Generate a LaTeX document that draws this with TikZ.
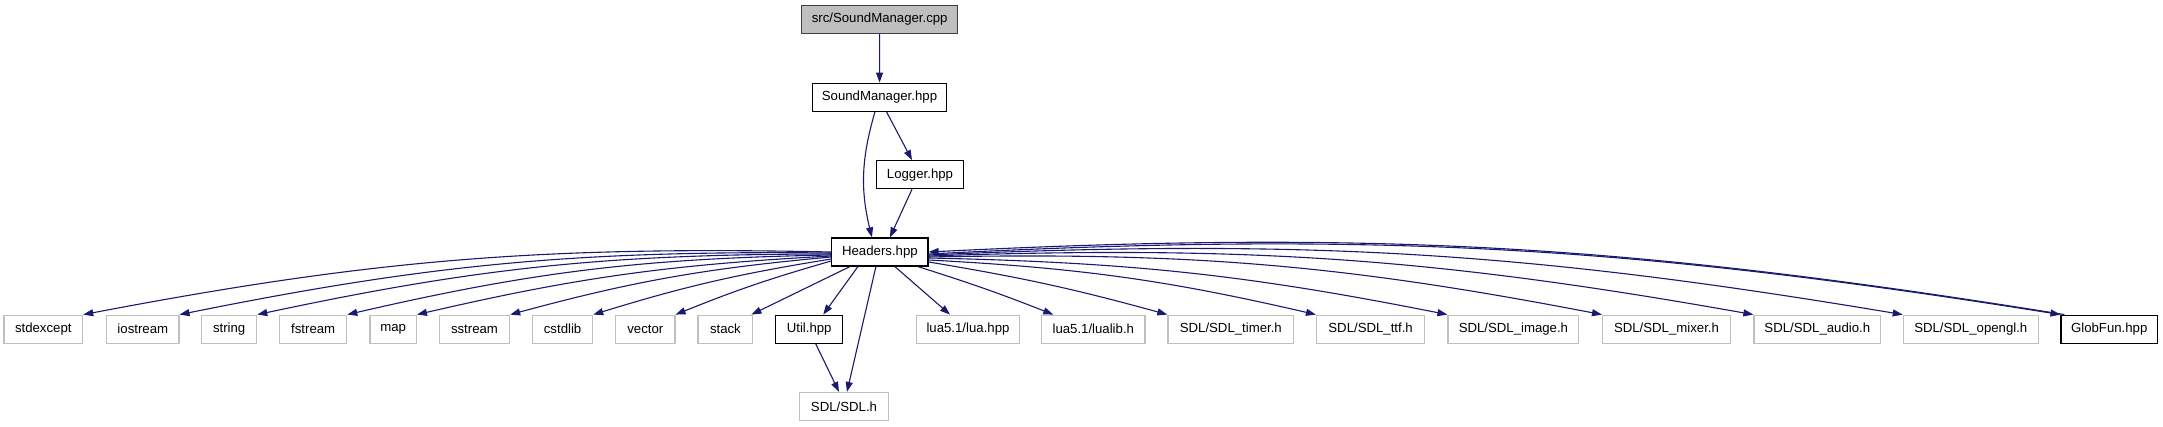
\documentclass[tikz,border=0pt]{standalone}
\usepackage{fontspec}
\setmainfont{Liberation Sans}
\usetikzlibrary{arrows.meta,calc}
\definecolor{edgecol}{HTML}{191970}
\definecolor{extgray}{HTML}{BFBFBF}
\definecolor{srcborder}{HTML}{404040}
\begin{document}
\begin{tikzpicture}[x=1pt, y=1pt,
  box/.style={draw, line width=1.2pt, minimum height=28pt, inner sep=0pt, font=\fontsize{13.2}{15}\selectfont},
  doc/.style={box, draw=black},
  ext/.style={box, draw=extgray},
  srcbox/.style={box, draw=srcborder, fill=extgray},
  edge/.style={draw=edgecol, line width=1.1pt, -{Triangle[length=10pt,width=7pt]}},
  bendR/.style={to path={.. controls ($(\tikztostart)!0.39!-#1:(\tikztotarget)$) and ($(\tikztotarget)!0.39!#1:(\tikztostart)$) .. (\tikztotarget) \tikztonodes}},
  bendL/.style={to path={.. controls ($(\tikztostart)!0.39!#1:(\tikztotarget)$) and ($(\tikztotarget)!0.39!-#1:(\tikztostart)$) .. (\tikztotarget) \tikztonodes}}]
\useasboundingbox (0,0) rectangle (2163,-427);
% top chain
\node[srcbox, minimum width=156pt] (src) at (879.7,-19.5) {src/SoundManager.cpp};
\node[doc, minimum width=134.4pt] (smh) at (879.5,-97.2) {SoundManager.hpp};
\node[doc, minimum width=86.6pt] (logger) at (920,-174.7) {Logger.hpp};
\node[doc, minimum width=96.3pt] (H) at (879.9,-252) {Headers.hpp};
% bottom row
\node[ext, minimum width=78.7pt] (stdexcept) at (43.3,-329.2) {stdexcept};
\node[ext, minimum width=72.3pt] (iostream) at (142.8,-329.2) {iostream};
\node[ext, minimum width=55pt] (string) at (229.2,-329.2) {string};
\node[ext, minimum width=67pt] (fstream) at (313.2,-329.2) {fstream};
\node[ext, minimum width=46.4pt] (map) at (393.2,-329.2) {map};
\node[ext, minimum width=70.2pt] (sstream) at (474.5,-329.2) {sstream};
\node[ext, minimum width=60.1pt] (cstdlib) at (562.6,-329.2) {cstdlib};
\node[ext, minimum width=59.3pt] (vector) at (645.3,-329.2) {vector};
\node[ext, minimum width=54.8pt] (stack) at (725.4,-329.2) {stack};
\node[doc, minimum width=67pt] (util) at (809.2,-329.2) {Util.hpp};
\node[ext, minimum width=102.6pt] (lua) at (968,-329.2) {lua5.1/lua.hpp};
\node[ext, minimum width=103.3pt] (lualib) at (1093.3,-329.2) {lua5.1/lualib.h};
\node[ext, minimum width=125.8pt] (timer) at (1230.8,-329.2) {SDL/SDL\_timer.h};
\node[ext, minimum width=108.1pt] (ttf) at (1370.6,-329.2) {SDL/SDL\_ttf.h};
\node[ext, minimum width=130.8pt] (image) at (1513.4,-329.2) {SDL/SDL\_image.h};
\node[ext, minimum width=127.9pt] (mixer) at (1666.5,-329.2) {SDL/SDL\_mixer.h};
\node[ext, minimum width=126.7pt] (audio) at (1817.3,-329.2) {SDL/SDL\_audio.h};
\node[ext, minimum width=135pt] (opengl) at (1970.8,-329.2) {SDL/SDL\_opengl.h};
\node[doc, minimum width=96.3pt] (globfun) at (2109.2,-329.2) {GlobFun.hpp};
\node[ext, minimum width=89.4pt] (sdlh) at (844,-406.5) {SDL/SDL.h};
% edges top
\draw[edge] (src) -- (smh);
\draw[edge] ($(smh.south)+(-4.5,0)$) to[bendR=15] ($(H.north)+(-8,0)$);
\draw[edge] ($(smh.south)+(7,0)$) -- ($(logger.north)+(-8,0)$);
\draw[edge] ($(logger.south)+(-8,0)$) -- ($(H.north)+(10,0)$);
% left group
\draw[edge] (H.west) to[bendR=6] (stdexcept.north east);
\draw[edge] ($(H.west)+(0,-1)$) to[bendR=6] (iostream.north east);
\draw[edge] ($(H.west)+(0,-2)$) to[bendR=6] (string.north east);
\draw[edge] ($(H.west)+(0,-3)$) to[bendR=6] (fstream.north east);
\draw[edge] ($(H.west)+(0,-4)$) to[bendR=5] (map.north east);
\draw[edge] ($(H.west)+(0,-5)$) to[bendR=5] (sstream.north east);
\draw[edge] ($(H.west)+(0,-7)$) to[bendR=4] (cstdlib.north east);
\draw[edge] ($(H.west)+(0,-9)$) to[bendR=3] (vector.north east);
\draw[edge] ($(H.south)+(-30,0)$) -- ($(stack.north east)+(-2,0)$);
\draw[edge] ($(H.south)+(-22,0)$) -- ($(util.north)+(14,0)$);
\draw[edge] ($(H.south)+(-4,0)$) -- ($(sdlh.north)+(3,0)$);
\draw[edge] ($(util.south)+(6.5,0)$) -- ($(sdlh.north)+(-5,0)$);
% right group
\draw[edge] ($(H.south)+(15,0)$) -- ($(lua.north)+(-18,0)$);
\draw[edge] ($(H.south)+(38,0)$) to[bendL=2] ($(lualib.north)+(-40,0)$);
\draw[edge] ($(H.east)+(0,-10)$) to[bendL=3] (timer.north west);
\draw[edge] ($(H.east)+(0,-8)$) to[bendL=5] (ttf.north west);
\draw[edge] ($(H.east)+(0,-6)$) to[bendL=5] (image.north west);
\draw[edge] ($(H.east)+(0,-5)$) to[bendL=6] (mixer.north west);
\draw[edge] ($(H.east)+(0,-4)$) to[bendL=6] (audio.north west);
\draw[edge] ($(H.east)+(0,-3)$) to[bendL=6] (opengl.north west);
\draw[edge] ($(H.east)+(0,-2)$) to[bendL=6] (globfun.north west);
\draw[edge] ($(globfun.north west)+(4,0)$) to[bendR=6] (H.east);
\end{tikzpicture}
\end{document}
